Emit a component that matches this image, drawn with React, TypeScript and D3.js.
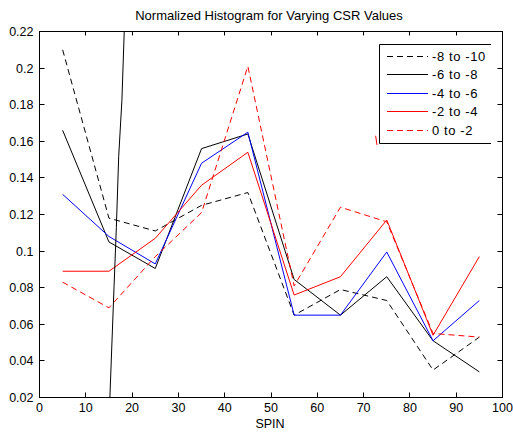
import * as d3 from "d3";

const spin = [5, 15, 25, 35, 45, 55, 65, 75, 85, 95];
const s8to10 = [0.21, 0.118, 0.111, 0.125, 0.132, 0.065, 0.079, 0.073, 0.035, 0.053];
const s6to8 = [0.166, 0.105, 0.0905, 0.156, 0.164, 0.0845, 0.065, 0.086, 0.051, 0.034];
const s4to6 = [0.131, 0.108, 0.093, 0.148, 0.165, 0.065, 0.065, 0.0995, 0.051, 0.073];
const s2to4 = [0.089, 0.089, 0.107, 0.136, 0.154, 0.076, 0.086, 0.117, 0.054, 0.097];
const s0to2 = [0.083, 0.069, 0.097, 0.121, 0.201, 0.081, 0.124, 0.116, 0.055, 0.053];

// stray segments visible in the original figure
const strayBlackX = [15.2, 16.1, 16.6, 17.1, 17.8, 18.3];
const strayBlackY = [0.02, 0.0805, 0.113, 0.1515, 0.1825, 0.22];
const strayRedX = [72.6, 72.9];
const strayRedY = [0.163, 0.158];

const xTicks = [0, 10, 20, 30, 40, 50, 60, 70, 80, 90, 100];
const yTicks = [0.02, 0.04, 0.06, 0.08, 0.1, 0.12, 0.14, 0.16, 0.18, 0.2, 0.22];

const series = [
  { name: "-8 to -10", values: s8to10, color: "#000000", dash: "6,4" },
  { name: "-6 to -8", values: s6to8, color: "#000000", dash: "" },
  { name: "-4 to -6", values: s4to6, color: "#0000ff", dash: "" },
  { name: "-2 to -4", values: s2to4, color: "#ff0000", dash: "" },
  { name: "0 to -2", values: s0to2, color: "#ff0000", dash: "6,4" },
];

export default function App() {
  const width = 513;
  const height = 432;
  const left = 39.5;
  const right = 502.5;
  const top = 31.5;
  const bottom = 397.5;

  const x = d3.scaleLinear().domain([0, 100]).range([left, right]);
  const y = d3.scaleLinear().domain([0.02, 0.22]).range([bottom, top]);
  const snap = (v: number) => Math.round(v - 0.5) + 0.5;

  const line = d3
    .line<[number, number]>()
    .x((d) => x(d[0]))
    .y((d) => y(d[1]));

  const font = "'Liberation Sans', Arial, sans-serif";
  const fmt = (v: number) => String(+v.toFixed(2));

  // legend
  const lgLeft = 379.5;
  const lgTop = 44.5;
  const lgBottom = 143.5;
  const lgRight = 491;
  const rowY = d3.scaleLinear().domain([0, 4]).range([56, 130]);

  return (
    <svg
      width={width}
      height={height}
      style={{ position: "absolute", left: 0, top: 0, background: "#fff" }}
    >
      <defs>
        <clipPath id="plot">
          <rect x={left} y={top} width={right - left} height={bottom - top} />
        </clipPath>
      </defs>
      <rect x={0} y={0} width={width} height={height} fill="#fff" />

      <text
        x={269}
        y={20}
        textAnchor="middle"
        fontFamily={font}
        fontSize={13}
        fill="#000"
      >
        Normalized Histogram for Varying CSR Values
      </text>

      <g clipPath="url(#plot)" fill="none" strokeWidth={1}>
        {series.map((s) => (
          <path
            key={s.name}
            d={line(spin.map((v, i) => [v, s.values[i]] as [number, number])) || ""}
            stroke={s.color}
            strokeDasharray={s.dash || undefined}
          />
        ))}
        <path
          d={line(strayBlackX.map((v, i) => [v, strayBlackY[i]] as [number, number])) || ""}
          stroke="#000"
        />
        <path
          d={line(strayRedX.map((v, i) => [v, strayRedY[i]] as [number, number])) || ""}
          stroke="#ff0000"
        />
      </g>

      {/* axes box */}
      <rect
        x={left}
        y={top}
        width={right - left}
        height={bottom - top}
        fill="none"
        stroke="#000"
        strokeWidth={1}
      />
      <g stroke="#000" strokeWidth={1}>
        {xTicks.map((t) => (
          <g key={"x" + t}>
            <line x1={snap(x(t))} x2={snap(x(t))} y1={bottom} y2={bottom - 5} />
            <line x1={snap(x(t))} x2={snap(x(t))} y1={top} y2={top + 4} />
          </g>
        ))}
        {yTicks.map((t) => (
          <g key={"y" + t}>
            <line x1={left} x2={left + 5} y1={snap(y(t))} y2={snap(y(t))} />
            <line x1={right} x2={right - 5} y1={snap(y(t))} y2={snap(y(t))} />
          </g>
        ))}
      </g>
      <g fontFamily={font} fontSize={12.5} fill="#000">
        {xTicks.map((t) => (
          <text key={"xl" + t} x={x(t)} y={412} textAnchor="middle">
            {t}
          </text>
        ))}
        {yTicks.map((t) => (
          <text key={"yl" + t} x={33.5} y={y(t) + 4.5} textAnchor="end">
            {fmt(t)}
          </text>
        ))}
        <text x={270} y={428} textAnchor="middle">
          SPIN
        </text>
      </g>

      {/* legend */}
      <rect
        x={lgLeft}
        y={lgTop}
        width={lgRight - lgLeft}
        height={lgBottom - lgTop}
        fill="#fff"
        stroke="none"
      />
      <path
        d={`M${lgRight},${lgTop}H${lgLeft}V${lgBottom}H${lgRight}`}
        fill="none"
        stroke="#000"
        strokeWidth={1}
      />
      {series.map((s, i) => (
        <g key={"lg" + s.name}>
          <line
            x1={387}
            x2={428}
            y1={snap(rowY(i))}
            y2={snap(rowY(i))}
            stroke={s.color}
            strokeWidth={1}
            strokeDasharray={s.dash || undefined}
          />
          <text
            x={432}
            y={rowY(i) + 4.5}
            fontFamily={font}
            fontSize={13}
            letterSpacing={0.6}
            fill="#000"
          >
            {s.name}
          </text>
        </g>
      ))}
    </svg>
  );
}
